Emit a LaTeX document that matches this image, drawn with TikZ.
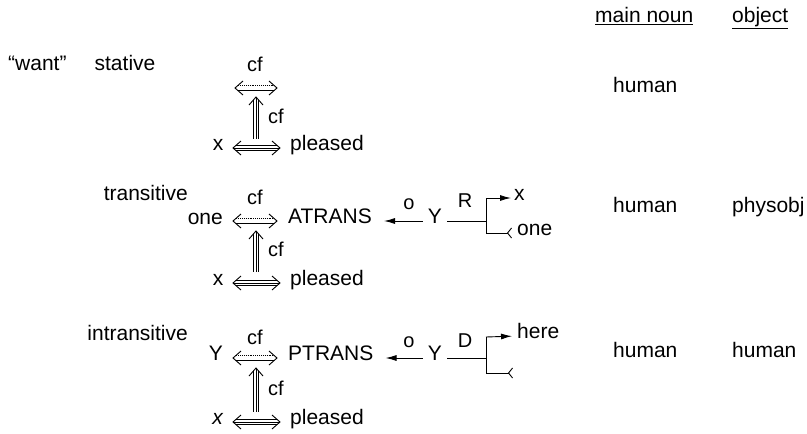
\documentclass[tikz,border=0pt]{standalone}
\usepackage{fontspec}
\setmainfont{Liberation Sans}
\usetikzlibrary{arrows.meta,calc}
\tikzset{
  txt/.style={inner sep=0pt, font=\fontsize{21}{25}\selectfont},
  lbl/.style={inner sep=0pt, font=\fontsize{20}{24}\selectfont},
  cdline/.style={line width=0.9pt, line join=miter},
  rel/.style={line width=0.9pt},
  filledtip/.style={-{Latex[length=11pt,width=6pt]}},
  tailtip/.style={-{Straight Barb[reversed,length=4pt,width=10pt]}}
}
% two-line double-headed arrow (upper line dotted)
\newcommand\cdBiTwo[2]{%
  \draw[cdline] ($(#1)+(8,-7)$) -- (#1) -- ($(#1)+(8,7)$);
  \draw[cdline] ($(#2)+(-8,-7)$) -- (#2) -- ($(#2)+(-8,7)$);
  \draw[cdline,densely dotted] ($(#1)+(3.2,-2.8)$) -- ($(#2)+(-3.2,-2.8)$);
  \draw[cdline] ($(#1)+(3.2,2.8)$) -- ($(#2)+(-3.2,2.8)$);
}
% three-line double-headed arrow
\newcommand\cdBiThree[2]{%
  \draw[cdline] ($(#1)+(8,-7)$) -- (#1) -- ($(#1)+(8,7)$);
  \draw[cdline] ($(#2)+(-8,-7)$) -- (#2) -- ($(#2)+(-8,7)$);
  \draw[cdline] ($(#1)+(3.2,-2.8)$) -- ($(#2)+(-3.2,-2.8)$);
  \draw[cdline] ($(#1)+(0.6,0)$) -- ($(#2)+(-0.6,0)$);
  \draw[cdline] ($(#1)+(3.2,2.8)$) -- ($(#2)+(-3.2,2.8)$);
}
% three-line upward arrow, #1 bottom, #2 tip
\newcommand\cdUpThree[2]{%
  \draw[cdline] ($(#2)+(-7,8)$) -- (#2) -- ($(#2)+(7,8)$);
  \draw[cdline] ($(#2)+(-2.6,3)$) -- ($(#1)+(-2.6,0)$);
  \draw[cdline] ($(#2)+(0,0.6)$) -- (#1);
  \draw[cdline] ($(#2)+(2.6,3)$) -- ($(#1)+(2.6,0)$);
}
\begin{document}
\begin{tikzpicture}[x=1pt,y=-1pt]
\useasboundingbox (0,0) rectangle (807,434);
% header
\node[txt,anchor=mid west] (hmain) at (595,20) {\underline{main noun}};
\node[txt,anchor=mid west] (hobj) at (732,20) {\underline{object}};
% row 1
\node[txt,anchor=mid west] (want) at (8,68) {“want”};
\node[txt,anchor=mid] (stative) at (125,68) {stative};
\node[lbl,anchor=mid] (cf1a) at (255,69) {cf};
\coordinate (t1l) at (235,88);
\coordinate (t1r) at (277,88);
\cdBiTwo{t1l}{t1r}
\coordinate (v1b) at (256,139);
\coordinate (v1t) at (256,97);
\cdUpThree{v1b}{v1t}
\node[lbl,anchor=mid west] (cf1b) at (268,121) {cf};
\node[txt,anchor=mid] (x1) at (218,148) {x};
\coordinate (b1l) at (233,148);
\coordinate (b1r) at (280,148);
\cdBiThree{b1l}{b1r}
\node[txt,anchor=mid west] (pl1) at (290,148) {pleased};
\node[txt,anchor=mid west] (hum1) at (613,90) {human};
% row 2
\node[txt,anchor=mid east] (trans) at (188,198) {transitive};
\node[txt,anchor=mid east] (one2) at (223,222) {one};
\node[lbl,anchor=mid] (cf2a) at (255,202) {cf};
\coordinate (t2l) at (233,221);
\coordinate (t2r) at (277,221);
\cdBiTwo{t2l}{t2r}
\node[txt,anchor=mid west] (atrans) at (288,221) {ATRANS};
\coordinate (v2b) at (256,272);
\coordinate (v2t) at (256,231);
\cdUpThree{v2b}{v2t}
\node[lbl,anchor=mid west] (cf2b) at (268,254) {cf};
\node[txt,anchor=mid] (x2) at (218,283) {x};
\coordinate (b2l) at (233,283);
\coordinate (b2r) at (280,283);
\cdBiThree{b2l}{b2r}
\node[txt,anchor=mid west] (pl2) at (290,283) {pleased};
\node[txt,anchor=mid] (y2) at (435,221) {Y};
\node[lbl,anchor=mid] (o2) at (409,207) {o};
\draw[rel,filledtip,shorten <=5pt,shorten >=12pt] (y2.mid west) -- (atrans.mid east);
\node[lbl,anchor=mid] (r2) at (465,205) {R};
\coordinate (j2) at (486,221);
\coordinate (j2t) at (486,198);
\coordinate (j2b) at (486,233);
\draw[rel,shorten <=5pt] (y2.mid east) -- (j2);
\draw[rel] (j2t) -- (j2b);
\node[txt,anchor=mid west] (xr2) at (514,198) {x};
\node[txt,anchor=mid west] (oner2) at (517,233) {one};
\draw[rel,filledtip,shorten >=3pt] (j2t) -- (xr2.mid west);
\draw[rel,tailtip,shorten >=5pt] (j2b) -- (oner2.mid west);
\node[txt,anchor=mid west] (hum2) at (613,210) {human};
\node[txt,anchor=mid west] (phys2) at (732,210) {physobj};
% row 3
\node[txt,anchor=mid east] (intrans) at (188,338) {intransitive};
\node[txt,anchor=mid] (y3l) at (216,358) {Y};
\node[lbl,anchor=mid] (cf3a) at (255,342) {cf};
\coordinate (t3l) at (233,358);
\coordinate (t3r) at (277,358);
\cdBiTwo{t3l}{t3r}
\node[txt,anchor=mid west] (ptrans) at (288,358) {PTRANS};
\coordinate (v3b) at (256,412);
\coordinate (v3t) at (256,368);
\cdUpThree{v3b}{v3t}
\node[lbl,anchor=mid west] (cf3b) at (268,393) {cf};
\node[txt,anchor=mid] (x3) at (218,422) {\textit{x}};
\coordinate (b3l) at (233,422);
\coordinate (b3r) at (280,422);
\cdBiThree{b3l}{b3r}
\node[txt,anchor=mid west] (pl3) at (290,422) {pleased};
\node[txt,anchor=mid] (y3) at (435,358) {Y};
\node[lbl,anchor=mid] (o3) at (409,345) {o};
\draw[rel,filledtip,shorten <=5pt,shorten >=12pt] (y3.mid west) -- (ptrans.mid east);
\node[lbl,anchor=mid] (d3) at (465,345) {D};
\coordinate (j3) at (486,358);
\coordinate (j3t) at (486,337);
\coordinate (j3b) at (486,373);
\draw[rel,shorten <=5pt] (y3.mid east) -- (j3);
\draw[rel] (j3t) -- (j3b);
\node[txt,anchor=mid west] (here3) at (517,336) {here};
\coordinate (tail3) at (513,373);
\draw[rel,filledtip,shorten >=5pt] (j3t) -- (here3.mid west);
\draw[rel,tailtip] (j3b) -- (tail3);
\node[txt,anchor=mid west] (hum3a) at (613,355) {human};
\node[txt,anchor=mid west] (hum3b) at (732,355) {human};
\end{tikzpicture}
\end{document}
